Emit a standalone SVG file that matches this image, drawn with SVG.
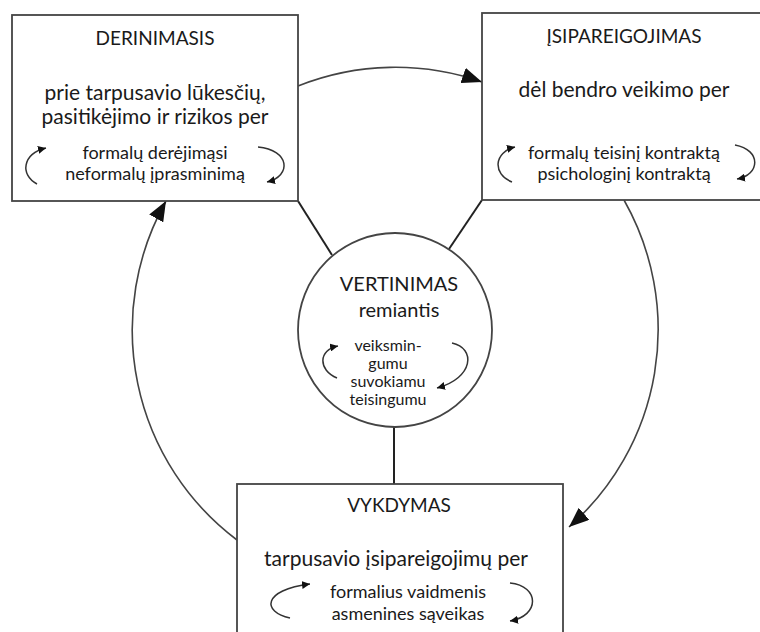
<svg xmlns="http://www.w3.org/2000/svg" width="760" height="632" viewBox="0 0 760 632">
<defs>
<marker id="big" markerWidth="22" markerHeight="16" refX="20" refY="8" orient="auto" markerUnits="userSpaceOnUse">
<path d="M0,0 L20,8 L0,16 Z" fill="#111"/>
</marker>
<marker id="small" markerWidth="9" markerHeight="8" refX="8" refY="4" orient="auto" markerUnits="userSpaceOnUse">
<path d="M0,0 L8,4 L0,8 Z" fill="#111"/>
</marker>
<style>
.box{fill:#fff;stroke:#444;stroke-width:1.8}
.line{fill:none;stroke:#222;stroke-width:2}
.arc{fill:none;stroke:#444;stroke-width:1.6}
.curl{fill:none;stroke:#333;stroke-width:1.5}
text{font-family:Lato,"Open Sans","Liberation Sans",sans-serif;fill:#1a1a1a;text-anchor:middle}
.t{font-size:19px}
.m{font-size:21px}
.s{font-size:18px}
.ct{font-size:20px}
.cs{font-size:16px}
</style>
</defs>
<rect width="760" height="632" fill="#fff"/>
<g id="connectors">
<line class="line" x1="298" y1="201" x2="332" y2="255"/>
<line class="line" x1="482" y1="200" x2="449" y2="249"/>
<line class="line" x1="394" y1="427" x2="394" y2="484"/>
<path class="arc" d="M298,86 A263,263 0 0 1 482,82" marker-end="url(#big)"/>
<path class="arc" d="M624,200 A263,263 0 0 1 569,527" marker-end="url(#big)"/>
<path class="arc" d="M237,540 A263,263 0 0 1 166,201" marker-end="url(#big)"/>
</g>
<g id="derinimasis">
<rect class="box" x="12" y="15" width="286" height="186"/>
<text class="t" x="155" y="45">DERINIMASIS</text>
<text class="m" x="155" y="100">prie tarpusavio lūkesčių,</text>
<text class="m" x="155" y="124">pasitikėjimo ir rizikos per</text>
<text class="s" x="155" y="159">formalų derėjimąsi</text>
<text class="s" x="155" y="180">neformalų įprasminimą</text>
<path class="curl" d="M37,184 C20,175 22,154 46,148" marker-end="url(#small)"/>
<path class="curl" d="M258,147 C290,150 292,176 267,182" marker-end="url(#small)"/>
</g>
<g id="isipareigojimas">
<rect class="box" x="482" y="13" width="300" height="187"/>
<text class="t" x="624" y="43">ĮSIPAREIGOJIMAS</text>
<text class="m" x="624" y="97">dėl bendro veikimo per</text>
<text class="s" x="624" y="159">formalų teisinį kontraktą</text>
<text class="s" x="624" y="180">psichologinį kontraktą</text>
<path class="curl" d="M512,182 C492,174 494,152 515,147" marker-end="url(#small)"/>
<path class="curl" d="M735,145 C762,150 760,175 737,179" marker-end="url(#small)"/>
</g>
<g id="vertinimas">
<circle class="box" cx="395" cy="330" r="97"/>
<text class="ct" x="399" y="291">VERTINIMAS</text>
<text class="ct" x="399" y="317">remiantis</text>
<text class="cs" x="388" y="351">veiksmin-</text>
<text class="cs" x="388" y="369">gumu</text>
<text class="cs" x="388" y="387">suvokiamu</text>
<text class="cs" x="388" y="405">teisingumu</text>
<path class="curl" d="M337,378 C318,370 318,350 338,346" marker-end="url(#small)"/>
<path class="curl" d="M452,343 C476,348 474,378 437,388" marker-end="url(#small)"/>
</g>
<g id="vykdymas">
<rect class="box" x="237" y="484" width="326" height="200"/>
<text class="t" x="399" y="512">VYKDYMAS</text>
<text class="m" x="396" y="566">tarpusavio įsipareigojimų per</text>
<text class="s" x="408" y="598">formalius vaidmenis</text>
<text class="s" x="408" y="620">asmenines sąveikas</text>
<path class="curl" d="M290,618 C262,612 262,590 310,584" marker-end="url(#small)"/>
<path class="curl" d="M510,583 C540,586 540,616 510,621" marker-end="url(#small)"/>
</g>
</svg>
